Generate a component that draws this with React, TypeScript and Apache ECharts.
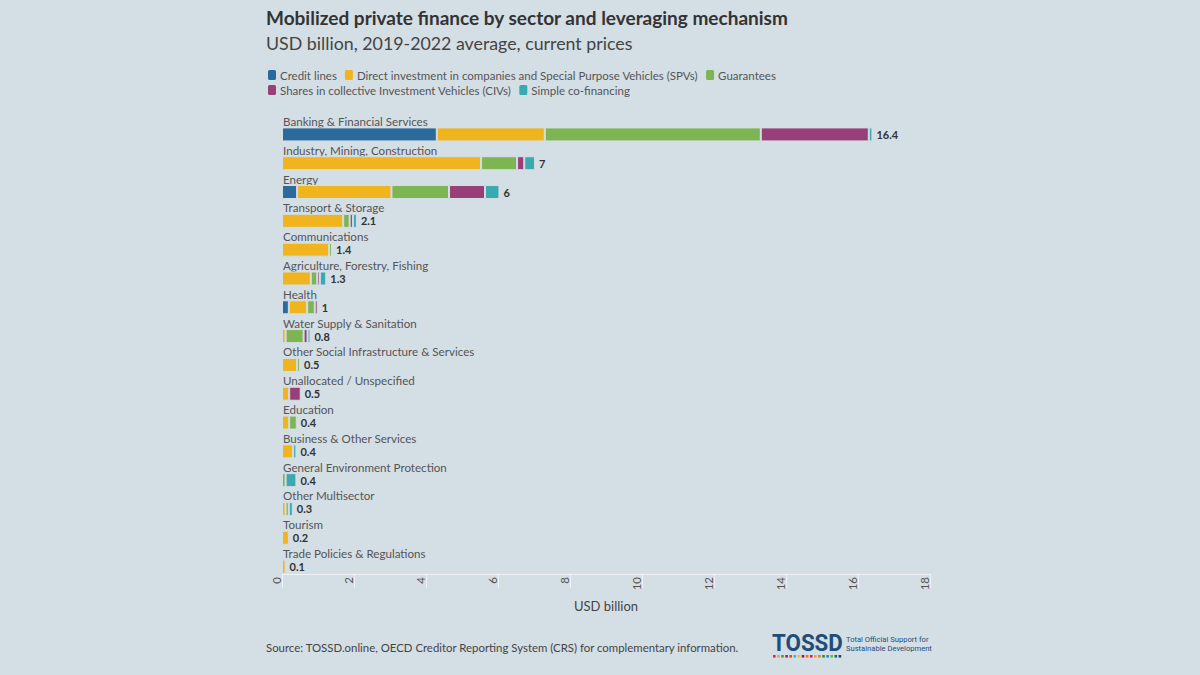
import React, { useEffect, useRef } from "react";
import * as echarts from "echarts";

const categories = [
  "Banking & Financial Services",
  "Industry, Mining, Construction",
  "Energy",
  "Transport & Storage",
  "Communications",
  "Agriculture, Forestry, Fishing",
  "Health",
  "Water Supply & Sanitation",
  "Other Social Infrastructure & Services",
  "Unallocated / Unspecified",
  "Education",
  "Business & Other Services",
  "General Environment Protection",
  "Other Multisector",
  "Tourism",
  "Trade Policies & Regulations",
];

const creditLines = [4.3, null, 0.42, null, null, null, 0.19, null, null, null, null, null, null, null, null, null];
const directInvestment = [3.0, 5.53, 2.62, 1.7, 1.31, 0.8, 0.51, 0.1, 0.42, 0.2, 0.2, 0.31, null, 0.1, 0.19, 0.1];
const guarantees = [6.0, 1.0, 1.6, 0.18, 0.08, 0.18, 0.21, 0.5, 0.08, null, 0.21, null, 0.1, 0.09, null, null];
const sharesCIVs = [3.0, 0.2, 1.0, 0.09, null, 0.07, 0.08, 0.11, null, 0.32, null, null, null, null, null, null];
const simpleCofinancing = [0.1, 0.3, 0.4, 0.11, null, 0.18, null, 0.08, null, null, null, 0.09, 0.3, 0.11, null, null];
const totals = [16.4, 7, 6, 2.1, 1.4, 1.3, 1, 0.8, 0.5, 0.5, 0.4, 0.4, 0.4, 0.3, 0.2, 0.1];

const xTicks = { min: 0, max: 18, interval: 2 };

const seriesNames = [
  "Credit lines",
  "Direct investment in companies and Special Purpose Vehicles (SPVs)",
  "Guarantees",
  "Shares in collective Investment Vehicles (CIVs)",
  "Simple co-financing",
];
const seriesData = [creditLines, directInvestment, guarantees, sharesCIVs, simpleCofinancing];
const seriesColors = ["#2b6a9b", "#f0b41e", "#7cb552", "#973f76", "#3ba9b2"];

const BG = "#d4dee5";
const FONT = "Lato";
const sdgColors = [
  "#e5243b", "#dda63a", "#4c9f38", "#c5192d", "#ff3a21", "#26bde2", "#fcc30b", "#a21942", "#fd6925",
  "#dd1367", "#fd9d24", "#bf8b2e", "#3f7e44", "#0a97d9", "#56c02b", "#00689d", "#19486a",
];

export default function App() {
  const ref = useRef<HTMLDivElement>(null);
  useEffect(() => {
    if (!ref.current) return;
    const chart = echarts.init(ref.current, undefined, { renderer: "svg" });
    const stackSeries = seriesNames.map((name, i) => ({
      name,
      type: "bar",
      stack: "total",
      data: seriesData[i],
      barWidth: 14,
      barGap: "0%",
      barCategoryGap: "0%",
      itemStyle: { color: seriesColors[i], borderColor: BG, borderWidth: 1 },
    }));
    const logoDots = sdgColors.map((c, i) => ({
      type: "rect",
      left: 773 + i * 4.1,
      top: 655,
      shape: { width: 2.6, height: 2.6 },
      style: { fill: c },
    }));
    const legendBase = {
      left: 266,
      padding: 0,
      itemGap: 6,
      itemWidth: 10,
      itemHeight: 12,
      icon: "roundRect",
      textStyle: { fontSize: 11.5, color: "#555", fontFamily: FONT, padding: [0, 0, 0, -2] },
    };
    const option = {
      animation: false,
      backgroundColor: BG,
      textStyle: { fontFamily: FONT },
      title: [
        {
          text: "Mobilized private finance by sector and leveraging mechanism",
          left: 266,
          top: 8,
          padding: 0,
          textStyle: { fontSize: 19, fontWeight: "bold", color: "#333", fontFamily: FONT },
        },
        {
          text: "USD billion, 2019-2022 average, current prices",
          left: 266,
          top: 34,
          padding: 0,
          textStyle: { fontSize: 17.8, fontWeight: "normal", color: "#444", fontFamily: FONT },
        },
        {
          text: "Source: TOSSD.online, OECD Creditor Reporting System (CRS) for complementary information.",
          left: 266,
          top: 642,
          padding: 0,
          textStyle: { fontSize: 11.4, fontWeight: "normal", color: "#444", fontFamily: FONT },
        },
      ],
      legend: [
        { ...legendBase, data: seriesNames.slice(0, 3), top: 68 },
        { ...legendBase, data: seriesNames.slice(3), top: 83 },
      ],
      grid: { left: 282, right: 270, top: 113, bottom: 101, containLabel: false },
      xAxis: {
        type: "value",
        min: xTicks.min,
        max: xTicks.max,
        interval: xTicks.interval,
        name: "USD billion",
        nameLocation: "middle",
        nameGap: 25,
        nameTextStyle: { fontSize: 13, color: "#444", fontFamily: FONT },
        axisLine: { show: true, lineStyle: { color: "#eef2f4", width: 1 } },
        axisTick: { show: true, length: 14, lineStyle: { color: "#eef2f4" } },
        axisLabel: {
          rotate: 90,
          verticalAlign: "bottom",
          margin: 3,
          fontSize: 11.5,
          color: "#555",
          fontFamily: FONT,
        },
        splitLine: { show: false },
      },
      yAxis: {
        type: "category",
        data: categories,
        inverse: true,
        axisLine: { show: false },
        axisTick: { show: false },
        splitLine: { show: false },
        axisLabel: {
          inside: true,
          margin: 1,
          verticalAlign: "bottom",
          fontSize: 11.6,
          color: "#555",
          fontFamily: FONT,
        },
      },
      series: [
        {
          name: "_pad",
          type: "bar",
          data: categories.map(() => 0),
          barWidth: 14,
          barGap: "0%",
          barCategoryGap: "0%",
          silent: true,
          itemStyle: { color: "rgba(0,0,0,0)", borderWidth: 0 },
        },
        ...stackSeries,
        {
          name: "Total",
          type: "bar",
          stack: "total",
          data: totals.map(() => 0),
          barWidth: 14,
          silent: true,
          itemStyle: { color: "rgba(0,0,0,0)", borderWidth: 0 },
          label: {
            show: true,
            position: "right",
            distance: 4,
            formatter: (p: any) => String(totals[p.dataIndex]),
            fontSize: 11,
            fontWeight: "bold",
            color: "#333",
            fontFamily: FONT,
          },
        },
      ],
      graphic: [
        {
          type: "text",
          x: 772,
          y: 631,
          scaleX: 0.93,
          style: { text: "TOSSD", font: 'bold 24px "Roboto"', fill: "#1d4e79", verticalAlign: "top" },
        },
        {
          type: "text",
          left: 846,
          top: 635,
          style: { text: "Total Official Support for", font: '7.6px "Roboto"', fill: "#1d4e79" },
        },
        {
          type: "text",
          left: 846,
          top: 644,
          style: { text: "Sustainable Development", font: '7.6px "Roboto"', fill: "#1d4e79" },
        },
        ...logoDots,
      ],
    };
    chart.setOption(option as any);
    return () => chart.dispose();
  }, []);
  return (
    <div
      ref={ref}
      style={{ position: "absolute", left: 0, top: 0, width: 1200, height: 675 }}
    />
  );
}
